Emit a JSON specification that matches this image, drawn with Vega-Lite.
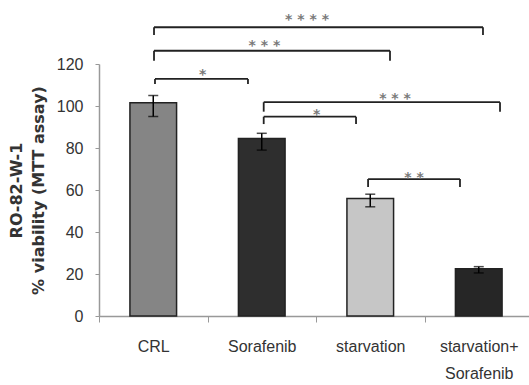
{
  "$schema": "https://vega.github.io/schema/vega-lite/v6.json",
  "width": 434,
  "height": 252,
  "padding": {"left": 8, "top": 13, "right": 0, "bottom": 0},
  "background": "white",
  "config": {"view": {"stroke": null}, "font": "Liberation Sans"},
  "datasets": {
    "bars": [
      {"group": "CRL", "viability": 101.5, "lo": 95, "hi": 105},
      {"group": "Sorafenib", "viability": 84.5, "lo": 79, "hi": 87},
      {"group": "starvation", "viability": 56, "lo": 52, "hi": 58},
      {"group": "starvation+ Sorafenib", "viability": 22.5, "lo": 20.5, "hi": 23.5}
    ],
    "brackets": [
      {"x1": 1.007, "x2": 4.039, "y": 137.5, "leg": 133.8, "label": "* * * *", "lx": 2.417, "ly": 142.7},
      {"x1": 1.007, "x2": 3.182, "y": 126.3, "leg": 121.6, "label": "* * *", "lx": 2.025, "ly": 130.3},
      {"x1": 1.016, "x2": 1.873, "y": 112.9, "leg": 110.5, "label": "*", "lx": 1.456, "ly": 116.8},
      {"x1": 2.018, "x2": 4.196, "y": 101.8, "leg": 97.3, "label": "* * *", "lx": 3.228, "ly": 105.2},
      {"x1": 2.018, "x2": 2.869, "y": 94.9, "leg": 91.4, "label": "*", "lx": 2.506, "ly": 97.6},
      {"x1": 2.98, "x2": 3.827, "y": 65.2, "leg": 61.4, "label": "* *", "lx": 3.403, "ly": 67.6}
    ]
  },
  "layer": [
    {
      "data": {"name": "bars"},
      "layer": [
        {
          "mark": {"type": "bar", "width": {"band": 0.43}, "stroke": "#222222", "strokeWidth": 1.5},
          "encoding": {
            "x": {
              "field": "group", "type": "nominal", "sort": null,
              "scale": {"paddingInner": 0, "paddingOuter": 0},
              "axis": {
                "title": null, "labelAngle": 0, "tickBand": "extent",
                "domainColor": "#999999", "tickColor": "#999999", "domainWidth": 1.5,
                "tickSize": 6, "labelFontSize": 16, "labelColor": "#333333",
                "labelPadding": 16, "labelLineHeight": 27,
                "labelExpr": "datum.value == 'starvation+ Sorafenib' ? ['starvation+', 'Sorafenib'] : datum.value"
              }
            },
            "y": {
              "field": "viability", "type": "quantitative",
              "scale": {"domain": [0, 120], "nice": false},
              "axis": {
                "values": [0, 20, 40, 60, 80, 100, 120], "grid": false,
                "tickSize": 4, "labelPadding": 12, "labelFontSize": 16, "labelColor": "#333333",
                "domainColor": "#999999", "tickColor": "#999999", "domainWidth": 1.5,
                "title": ["RO-82-W-1", "% viability (MTT assay)"],
                "titleFont": "DejaVu Sans", "titleFontSize": 16, "titleFontWeight": "bold",
                "titleLineHeight": 22, "titleColor": "#333333", "titlePadding": 10
              }
            },
            "color": {
              "field": "group", "type": "nominal", "sort": null,
              "scale": {"range": ["#858585", "#2e2e2e", "#c6c6c6", "#262626"]},
              "legend": null
            }
          }
        },
        {
          "mark": {"type": "rule", "color": "#000000", "strokeWidth": 1.5},
          "encoding": {
            "x": {"field": "group", "type": "nominal", "sort": null},
            "y": {"field": "lo", "type": "quantitative"},
            "y2": {"field": "hi"}
          }
        },
        {
          "mark": {"type": "tick", "color": "#000000", "thickness": 1.5, "size": 10},
          "encoding": {
            "x": {"field": "group", "type": "nominal", "sort": null},
            "y": {"field": "lo", "type": "quantitative"}
          }
        },
        {
          "mark": {"type": "tick", "color": "#000000", "thickness": 1.5, "size": 10},
          "encoding": {
            "x": {"field": "group", "type": "nominal", "sort": null},
            "y": {"field": "hi", "type": "quantitative"}
          }
        }
      ]
    },
    {
      "data": {"name": "brackets"},
      "layer": [
        {
          "mark": {"type": "rule", "color": "#222222", "strokeWidth": 1.8},
          "encoding": {
            "x": {"field": "x1", "type": "quantitative", "scale": {"domain": [0.5, 4.5], "nice": false, "zero": false}, "axis": null},
            "x2": {"field": "x2"},
            "y": {"field": "y", "type": "quantitative"}
          }
        },
        {
          "mark": {"type": "rule", "color": "#222222", "strokeWidth": 1.8},
          "encoding": {
            "x": {"field": "x1", "type": "quantitative", "axis": null},
            "y": {"field": "y", "type": "quantitative"},
            "y2": {"field": "leg"}
          }
        },
        {
          "mark": {"type": "rule", "color": "#222222", "strokeWidth": 1.8},
          "encoding": {
            "x": {"field": "x2", "type": "quantitative", "axis": null},
            "y": {"field": "y", "type": "quantitative"},
            "y2": {"field": "leg"}
          }
        },
        {
          "mark": {"type": "text", "color": "#7a7a7a", "font": "DejaVu Sans", "fontWeight": "bold", "fontSize": 14, "baseline": "alphabetic", "dy": 8, "align": "center"},
          "encoding": {
            "x": {"field": "lx", "type": "quantitative", "axis": null},
            "y": {"field": "ly", "type": "quantitative"},
            "text": {"field": "label"}
          }
        }
      ]
    }
  ],
  "resolve": {"scale": {"x": "independent"}}
}
